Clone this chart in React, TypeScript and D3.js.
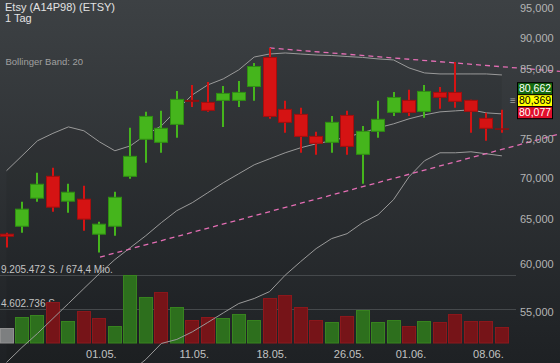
import React from 'react';
import * as d3 from 'd3';

const W = 560;
const H = 363;

const dates = ["23.04.","24.04.","27.04.","28.04.","29.04.","30.04.","01.05.","04.05.","05.05.","06.05.","07.05.","08.05.","11.05.","12.05.","13.05.","14.05.","15.05.","18.05.","19.05.","20.05.","21.05.","22.05.","26.05.","27.05.","28.05.","29.05.","01.06.","02.06.","03.06.","04.06.","05.06.","08.06.","09.06."];
const opens = [63304,64097,67407,70232,67043,67407,63189,64097,70104,74921,74516,76954,80415,80197,80342,80342,82371,86919,79200,78487,75449,74516,78345,72927,76000,78630,80487,78772,81647,81647,80487,77934,76413];
const highs = [63419,67043,70616,71256,69237,68985,64682,68254,76550,78772,78915,81795,82672,83123,82521,83273,85999,88348,80342,79343,76000,78202,78915,76814,80342,81647,81943,82672,82371,86155,80487,78630,79058];
const lows = [61741,63419,67043,65852,65733,63649,61187,63074,69865,71893,73192,75191,79471,78772,76674,79471,80342,77794,75862,73192,72927,73192,72927,69237,75191,78202,78202,77934,79200,79343,75862,74786,75862];
const closes = [62959,66209,69237,66328,68254,64916,64448,67636,72794,78202,76550,80632,80270,78915,81499,81647,85532,78060,77234,75312,74381,77374,73975,76138,77794,80908,78630,81795,80777,80197,78772,76413,76344];
const volumes = [2030000,3520000,3790000,5550000,2980000,4330000,3380000,2300000,9205472,6230000,6900000,4870000,3110000,3520000,3380000,3930000,3110000,6090000,6500000,4870000,3110000,2840000,3660000,4470000,2840000,3110000,2300000,2980000,2840000,3930000,2980000,2980000,2170000];
const bbUpper = [70872,72794,74786,75794,76674,76138,74651,73458,74111,75587,76814,79058,81204,82672,83574,84932,86919,87395,87554,87395,87236,87157,86998,86857,86623,86467,85238,84473,84320,84320,84320,84320,84166];
const bbMiddle = [50242,51614,52920,54366,55842,57368,58926,60427,61741,63074,64565,65971,66922,68131,69362,70488,71632,72414,73192,73856,74381,74786,75312,75862,76550,77094,77794,78345,78772,78915,79058,78630,78487];
const bbLower = [29600,30400,31050,32940,35010,38600,43200,47400,49370,50515,51980,52358,53074,53975,54910,55842,56349,57058,58755,60209,61631,62745,63304,64565,65494,67286,70104,72154,73192,73192,73325,73059,72794];
const priceTicks = [55000, 60000, 65000, 70000, 75000, 85000, 90000, 95000];
const dateTicks = ["01.05.", "11.05.", "18.05.", "26.05.", "01.06.", "08.06."];
const volumeTicks = [4602736, 9205472];
const volumeTickLabels = ["4.602.736 S.", "9.205.472 S. / 674,4 Mio."];
const trendUpper: [number, number][] = [[17, 88348], [35.75, 84700]];
const trendLower: [number, number][] = [[6.04, 60700], [35.75, 75725]];
const tagValues = [80662, 80369, 80077];
const title = "Etsy (A14P98) (ETSY)";
const period = "1 Tag";
const indicator = "Bollinger Band: 20";

const FONT = "'Liberation Sans', Arial, sans-serif";

export default function App() {
  const x = d3.scaleLinear().domain([0, dates.length - 1]).range([6.5, 501.9]);
  const y = d3.scaleLog().domain([55000, 95000]).range([312, 7.5]);
  const yv = d3.scaleLinear().domain([0, 9205472]).range([343, 275]);
  const fmt = d3.format(",.0f");
  const idx = d3.range(dates.length);

  const bandArea = d3.area<number>()
    .x((i) => x(i))
    .y0((i) => y(bbLower[i]))
    .y1((i) => y(bbUpper[i]))(idx) || '';
  const lineOf = (arr: number[]) => d3.line<number>().x((i) => x(i)).y((i) => y(arr[i]))(idx) || '';
  const trendPath = (pts: [number, number][]) => d3.line<[number, number]>().x((p) => x(p[0])).y((p) => y(p[1]))(pts) || '';

  const tagColors = [
    { bg: '#146b0f', fg: '#ffffff' },
    { bg: '#ffff00', fg: '#000000' },
    { bg: '#e0102c', fg: '#ffffff' },
  ];
  const midTag = y(tagValues[1]);

  return (
    <svg width={W} height={H} style={{ position: 'absolute', left: 0, top: 0 }} fontFamily={FONT}>
      <defs>
        <linearGradient id="bg" x1="0" y1="0" x2="0" y2="1">
          <stop offset="0" stopColor="#3d4144" />
          <stop offset="1" stopColor="#1e2124" />
        </linearGradient>
      </defs>
      <rect x={0} y={0} width={W} height={H} fill="url(#bg)" />
      <path d={bandArea} fill="rgba(0,0,0,0.06)" stroke="none" />

      {volumeTicks.map((v) => (
        <line key={v} x1={0} x2={516} y1={Math.round(yv(v)) + 0.5} y2={Math.round(yv(v)) + 0.5} stroke="#45494c" strokeWidth={1} />
      ))}
      {volumeTicks.map((v, k) => (
        <text key={'vl' + v} x={1} y={yv(v) - 2.5} fontSize={10} fill="#c4c4c4">{volumeTickLabels[k]}</text>
      ))}

      {volumes.map((v, i) => {
        const cx = Math.round(x(i));
        let fill = '#7d7f80', stroke = '#909090';
        if (i > 0) {
          if (closes[i] >= closes[i - 1]) { fill = '#2d6f1d'; stroke = '#38841f'; }
          else { fill = '#761418'; stroke = '#8c181c'; }
        }
        const top = yv(v);
        return <rect key={'v' + i} x={cx - 6.5} y={top + 0.5} width={13} height={yv(0) - top - 0.5} fill={fill} stroke={stroke} strokeWidth={1} />;
      })}

      <path d={lineOf(bbUpper)} fill="none" stroke="#9a9a9a" strokeWidth={1} />
      <path d={lineOf(bbMiddle)} fill="none" stroke="#9a9a9a" strokeWidth={1} />
      <path d={lineOf(bbLower)} fill="none" stroke="#9a9a9a" strokeWidth={1} />

      <path d={trendPath(trendUpper)} fill="none" stroke="#e46eb4" strokeWidth={1.3} strokeDasharray="5,4" />
      <path d={trendPath(trendLower)} fill="none" stroke="#e46eb4" strokeWidth={1.3} strokeDasharray="5,4" />

      {idx.map((i) => {
        const cx = Math.round(x(i));
        const o = opens[i], c = closes[i];
        const up = c >= o;
        const col = up ? '#45b51c' : '#d51313';
        const dark = up ? '#2f8f12' : '#a30e0e';
        const yTop = y(Math.max(o, c));
        const yBot = y(Math.min(o, c));
        const h = yBot - yTop;
        return (
          <g key={'c' + i}>
            <line x1={cx} x2={cx} y1={y(highs[i])} y2={y(lows[i])} stroke={col} strokeWidth={2} />
            {h < 2 ? (
              <rect x={cx - 7} y={yTop - 0.5} width={14} height={Math.max(1.5, h + 1)} fill="#8b1010" />
            ) : (
              <rect x={cx - 6.5} y={yTop + 0.5} width={13} height={h - 1} fill={col} stroke={dark} strokeWidth={1} />
            )}
          </g>
        );
      })}

      <text x={5} y={10.5} fontSize={11} fill="#e2e2e2">{title}</text>
      <text x={5} y={21.5} fontSize={11} fill="#e2e2e2">{period}</text>
      <text x={5.5} y={64.5} fontSize={9.5} fill="#a0a0a0">{indicator}</text>

      {priceTicks.map((p) => (
        <text key={'p' + p} x={520} y={y(p) + 4} fontSize={11} fill="#b4b4b4">{fmt(p)}</text>
      ))}

      {dateTicks.map((d) => {
        const i = dates.indexOf(d);
        return <text key={'d' + d} x={x(i) + 2} y={358} fontSize={11} fill="#c2c2c2" textAnchor="middle">{d}</text>;
      })}

      <text x={510} y={midTag + 3.5} fontSize={10} fill="#a0a0a0">≡</text>
      {tagValues.map((v, k) => {
        const cy = midTag + (k - 1) * 12;
        return (
          <g key={'t' + k}>
            <rect x={517.5} y={cy - 6} width={35} height={12} fill={tagColors[k].bg} stroke="#000" strokeWidth={1} />
            <text x={519} y={cy + 3.8} fontSize={10.5} fill={tagColors[k].fg}>{fmt(v)}</text>
          </g>
        );
      })}
    </svg>
  );
}
